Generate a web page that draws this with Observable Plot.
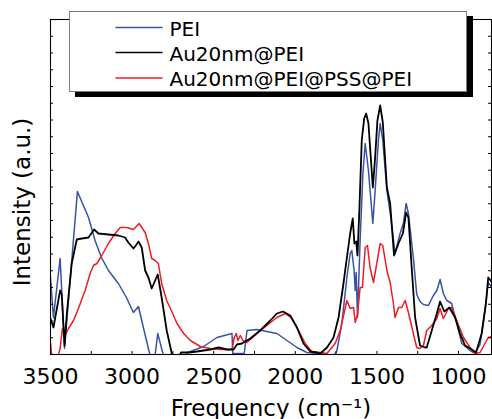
<!DOCTYPE html>
<html>
<head>
<meta charset="utf-8">
<script src="https://cdn.jsdelivr.net/npm/d3@7"></script>
<script src="https://cdn.jsdelivr.net/npm/@observablehq/plot@0.6"></script>
<style>
  html, body { margin: 0; padding: 0; background: #fff; }
  #wrap { position: relative; width: 492px; height: 419px; font-family: "DejaVu Sans", sans-serif; }
  #legend { position: absolute; left: 69px; top: 11px; width: 398px; height: 81px; box-sizing: border-box;
            border: 1.5px solid #7f7f7f; background: #fff; box-shadow: 6px 5px 0 #000; }
  #legend svg { position: absolute; left: 0; top: 0; }
</style>
</head>
<body>
<div id="wrap"></div>
<script>
// Series names and colours
const seriesNames = ["PEI", "Au20nm@PEI", "Au20nm@PEI@PSS@PEI"];
const seriesColors = ["#3853a4", "#000000", "#ee1c24"];

// x tick labels (wavenumber, cm-1)
const xTickLabels = [3500, 3000, 2500, 2000, 1500, 1000];
const xMinorTicks = [3500, 3250, 3000, 2750, 2500, 2250, 2000, 1750, 1500, 1250, 1000];

// PEI (blue)
const peiWn = [3500,3482,3441,3414,3335,3267,3227,3188,3145,3084,3035,2992,2961,2931,2890,2870,2843,2808,2780,2700,2663,2643,2562,2480,2388,2383,2313,2296,2235,2174,2113,2051,1990,1929,1868,1806,1766,1745,1715,1684,1664,1654,1640,1633,1627,1619,1603,1586,1572,1552,1525,1511,1491,1480,1464,1439,1415,1389,1358,1338,1321,1307,1277,1256,1236,1215,1185,1154,1133,1113,1093,1072,1042,1011,980,929,899,868,838,818,800];
const peiI  = [77,37,96,6,163,137,114,97,84,71,57,42,48,27,-1,-15,21,-1,-20,-20,2,3,8,17,21,1,1,24,25,23,21,14,7,2,1,0,-2,4,31,77,101,104,84,64,82,37,114,181,211,184,131,164,214,231,214,164,137,101,121,131,151,141,97,60,53,50,49,59,64,75,61,54,51,31,11,4,1,10,45,72,68];

// Au20nm@PEI (black)
const auWn = [3500,3482,3441,3431,3414,3400,3370,3339,3308,3267,3233,3206,3145,3084,3043,3023,2992,2977,2961,2941,2920,2900,2880,2864,2843,2819,2788,2757,2740,2716,2700,2650,2602,2521,2470,2419,2378,2358,2327,2276,2215,2153,2113,2076,2031,1990,1950,1909,1868,1847,1806,1766,1735,1705,1684,1664,1648,1638,1627,1619,1607,1593,1578,1566,1552,1525,1511,1497,1480,1464,1439,1419,1395,1368,1341,1321,1307,1287,1266,1236,1205,1195,1164,1133,1113,1087,1056,1021,991,960,919,893,858,832,818,803,795];
const auI  = [36,27,64,60,9,41,91,115,116,117,125,121,120,119,117,112,106,109,113,107,84,77,66,72,80,57,24,1,-5,-3,2,2,3,5,7,5,5,10,11,16,24,34,41,43,39,27,11,3,2,1,7,17,37,71,97,121,136,111,113,99,147,214,236,241,231,167,197,234,249,232,167,151,99,111,121,142,137,87,37,9,7,7,24,41,53,43,47,37,21,9,5,2,21,51,77,74,72];

// Au20nm@PEI@PSS@PEI (red)
const pssWn = [3500,3490,3460,3441,3427,3414,3390,3359,3329,3288,3257,3237,3216,3186,3145,3104,3073,3033,2992,2957,2920,2900,2880,2859,2839,2819,2788,2757,2725,2684,2643,2582,2521,2460,2388,2374,2362,2352,2337,2321,2296,2235,2174,2113,2062,2021,1980,1939,1899,1847,1806,1756,1725,1684,1664,1643,1633,1619,1603,1589,1572,1558,1542,1521,1501,1480,1464,1439,1419,1399,1389,1368,1348,1327,1307,1277,1256,1236,1215,1195,1164,1133,1113,1093,1062,1042,1011,970,929,899,868,838,818,795];
const pssI  = [12,-5,-5,6,26,18,26,34,46,64,81,89,91,99,111,121,127,127,125,131,122,111,96,94,91,71,54,43,31,21,14,8,6,5,5,17,21,14,19,14,12,21,29,37,41,36,24,11,3,2,1,11,24,54,46,47,32,40,67,67,107,109,87,72,91,111,109,84,72,51,37,47,47,54,42,21,7,6,9,24,29,36,46,36,46,47,34,17,7,1,2,11,17,18];

const toRows = (name, wn, I) => wn.map((w, i) => ({series: name, wn: w, I: I[i]}));
const data = [
  ...toRows(seriesNames[0], peiWn, peiI),
  ...toRows(seriesNames[2], pssWn, pssI),
  ...toRows(seriesNames[1], auWn, auI)
];

const W = 492, H = 419;
const mL = 50, mR = 1, mT = 19, mB = 65;
const plotW = W - mL - mR, plotH = H - mT - mB;
const yTicks = d3.range(0, 335.01, 16.75);

const chart = Plot.plot({
  width: W, height: H,
  marginLeft: mL, marginRight: mR, marginTop: mT, marginBottom: mB,
  style: {fontFamily: "DejaVu Sans, sans-serif", background: "white", color: "black"},
  x: {domain: [3500, 798]},
  y: {domain: [0, 335]},
  color: {domain: seriesNames, range: seriesColors},
  marks: [
    Plot.lineY(data, {x: "wn", y: "I", z: "series", stroke: "series",
      strokeWidth: d => d.series === "Au20nm@PEI" ? 1.8 : 1.5, clip: true}),
    Plot.frame({stroke: "black", strokeWidth: 1.1}),
    Plot.tickX(xMinorTicks, {x: d => d, insetTop: plotH - 3, stroke: "black", strokeWidth: 1}),
    Plot.tickY(yTicks, {y: d => d, insetRight: plotW - 3, stroke: "black", strokeWidth: 1}),
    Plot.tickY(yTicks, {y: d => d, insetLeft: plotW - 3, stroke: "black", strokeWidth: 1}),
    Plot.axisX(xTickLabels, {tickSize: 0, tickPadding: 14, fontSize: 22, label: null, tickFormat: d => String(d)}),
    Plot.axisY([], {label: null, tickSize: 0}),
    Plot.text(["Frequency (cm⁻¹)"], {text: d => d, frameAnchor: "bottom", dy: 61, lineAnchor: "bottom", fontSize: 23, fill: "black"}),
    Plot.text(["Intensity (a.u.)"], {text: d => d, frameAnchor: "left", rotate: -90, textAnchor: "middle", dx: -37, dy: 15, lineAnchor: "top", fontSize: 23, fill: "black"})
  ]
});

const wrap = document.getElementById("wrap");
wrap.appendChild(chart);

// Legend overlay
const legend = document.createElement("div");
legend.id = "legend";
const ns = "http://www.w3.org/2000/svg";
const lsvg = document.createElementNS(ns, "svg");
lsvg.setAttribute("width", 395);
lsvg.setAttribute("height", 78);
const rowY = [15.5, 40.5, 66];
seriesNames.forEach((name, i) => {
  const ln = document.createElementNS(ns, "line");
  ln.setAttribute("x1", 45.5); ln.setAttribute("x2", 92.5);
  ln.setAttribute("y1", rowY[i]); ln.setAttribute("y2", rowY[i]);
  ln.setAttribute("stroke", seriesColors[i]); ln.setAttribute("stroke-width", 1.6);
  lsvg.appendChild(ln);
  const tx = document.createElementNS(ns, "text");
  tx.setAttribute("x", 99.5); tx.setAttribute("y", rowY[i] + 1);
  tx.setAttribute("dominant-baseline", "central");
  tx.setAttribute("font-family", "DejaVu Sans, sans-serif");
  tx.setAttribute("font-size", 20);
  tx.textContent = name;
  lsvg.appendChild(tx);
});
legend.appendChild(lsvg);
wrap.appendChild(legend);
</script>
</body>
</html>
